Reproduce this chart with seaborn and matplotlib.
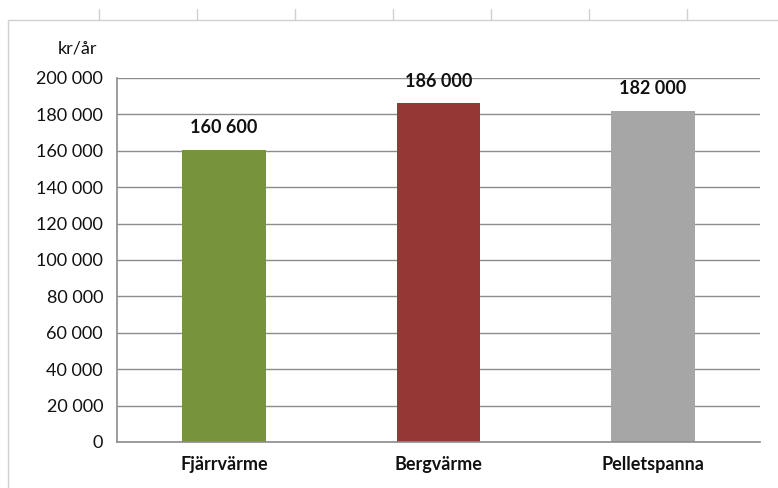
import matplotlib
matplotlib.use("Agg")
import matplotlib.pyplot as plt
import matplotlib.patches as mpatches
import matplotlib.lines as mlines
import pandas as pd
import seaborn as sns

# data
categories = ["Fjärrvärme", "Bergvärme", "Pelletspanna"]
costs = [160600, 186000, 182000]
bar_colors = ["#77933C", "#953735", "#A6A6A6"]
yticks = list(range(0, 200001, 20000))

df = pd.DataFrame({"system": categories, "cost": costs})

sns.set_style("white")
plt.rcParams["font.family"] = ["Lato", "DejaVu Sans"]

fig = plt.figure(figsize=(7.78, 4.88), dpi=100)
ax = fig.add_axes([117 / 778, 46 / 488, 643 / 778, 364 / 488])

sns.barplot(data=df, x="system", y="cost", hue="system", palette=bar_colors,
            width=0.39, legend=False, ax=ax, saturation=1, linewidth=0)

ax.set_ylim(0, 200000)
ax.set_xlim(-0.5, 2.5)
ax.set_yticks(yticks)
ax.set_yticklabels([f"{v:,}".replace(",", " ") for v in yticks], fontsize=13, color="#111111")
ax.set_xticks(range(len(categories)))
ax.set_xticklabels(categories, fontsize=13, fontweight="bold", color="#111111")
ax.tick_params(axis="both", length=0)
ax.tick_params(axis="y", pad=10)
ax.tick_params(axis="x", pad=10)
ax.set_xlabel("")
ax.set_ylabel("")

ax.yaxis.grid(True, color="#8c8c8c", linewidth=1)
ax.set_axisbelow(True)
for s in ["top", "right"]:
    ax.spines[s].set_visible(False)
for s in ["left", "bottom"]:
    ax.spines[s].set_color("#8c8c8c")
    ax.spines[s].set_linewidth(1.2)

for i, v in enumerate(costs):
    ax.annotate(f"{v:,}".replace(",", " "), (i, v), xytext=(0, 10), textcoords="offset points",
                ha="center", va="bottom", fontsize=13, fontweight="bold", color="#111111")

fig.text(97 / 778, 1 - 48 / 488, "kr/år", ha="right", va="center", fontsize=13, color="#111111")

# frame of the chart area and sheet ticks above it
fig.add_artist(mpatches.Rectangle((8 / 778, -0.1), 1.0, 1.1 - 20 / 488, transform=fig.transFigure,
                                  fill=False, edgecolor="#d0d0d0", linewidth=1))
for x in [99, 197, 295, 393, 491, 589, 687]:
    fig.add_artist(mlines.Line2D([x / 778, x / 778], [1 - 9 / 488, 1 - 20 / 488],
                                 transform=fig.transFigure, color="#d0d0d0", linewidth=1))

fig.savefig("out.png", dpi=100)
